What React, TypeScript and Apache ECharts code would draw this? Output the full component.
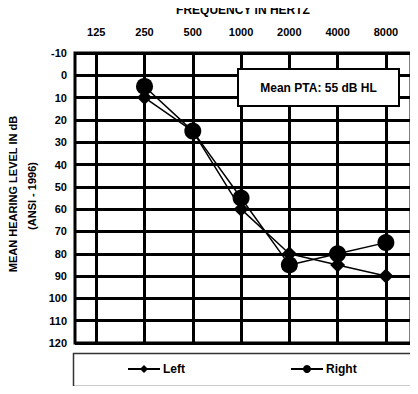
import React, { useEffect, useRef } from "react";
import * as echarts from "echarts";

const frequencies = ["125", "250", "500", "1000", "2000", "4000", "8000"];
const leftEar: (number | null)[] = [null, 10, 25, 60, 80, 85, 90];
const rightEar: (number | null)[] = [null, 5, 25, 55, 85, 80, 75];
const yTicks = { min: -10, max: 120, interval: 10 };
const yNameLines = ["MEAN HEARING LEVEL IN dB", "(ANSI - 1996)"];
const ptaLabel = "Mean PTA: 55 dB HL";

const FONT = "Liberation Sans, Arial, sans-serif";

export default function App() {
  const ref = useRef<HTMLDivElement>(null);
  useEffect(() => {
    if (!ref.current) return;
    const chart = echarts.init(ref.current, null, { renderer: "svg" });
    const toPairs = (arr: (number | null)[]) =>
      arr.map((v, i) => (v == null ? null : [i, v])).filter((p) => p !== null);
    chart.setOption({
      animation: false,
      backgroundColor: "#fff",
      textStyle: { fontFamily: FONT },
      title: {
        text: "FREQUENCY IN HERTZ",
        left: 243,
        top: 4,
        padding: 0,
        textAlign: "center",
        textVerticalAlign: "top",
        textStyle: { fontSize: 12, fontWeight: "bold", color: "#000", fontFamily: FONT },
      },
      grid: {
        left: 75,
        right: 7,
        top: 53,
        bottom: 51,
        outerBoundsMode: "none",
        containLabel: false,
        show: true,
        borderColor: "#000",
        borderWidth: 3,
        backgroundColor: "#fff",
      },
      xAxis: {
        type: "value",
        position: "top",
        min: -0.44,
        max: 6.52,
        axisLine: { show: false },
        axisTick: { show: false },
        splitLine: { show: false },
        axisLabel: {
          customValues: [0, 1, 2, 3, 4, 5, 6],
          formatter: (v: number) => frequencies[Math.round(v)] ?? "",
          color: "#000",
          fontWeight: "bold",
          fontSize: 11,
          fontFamily: FONT,
          margin: 16,
        },
      },
      yAxis: {
        type: "value",
        inverse: true,
        min: yTicks.min,
        max: yTicks.max,
        interval: yTicks.interval,
        axisLine: { show: false },
        axisTick: { show: false },
        splitLine: { show: true, lineStyle: { color: "#000", width: 3 } },
        axisLabel: {
          color: "#000",
          fontWeight: "bold",
          fontSize: 11,
          fontFamily: FONT,
          margin: 8,
        },
      },
      legend: {
        left: 122,
        top: 358,
        itemWidth: 32,
        itemHeight: 10,
        itemGap: 105,
        data: ["Left", "Right"],
        textStyle: { color: "#000", fontWeight: "bold", fontSize: 12, fontFamily: FONT, padding: [0, 0, 0, -2] },
      },
      graphic: [
        {
          type: "rect",
          silent: true,
          z: 100,
          shape: { x: 73.5, y: 353.5, width: 338, height: 33 },
          style: { fill: "none", stroke: "#333", lineWidth: 1.5 },
        },
        {
          type: "text",
          silent: true,
          z: 100,
          x: 13,
          y: 194,
          rotation: Math.PI / 2,
          style: {
            text: yNameLines[0],
            fill: "#000",
            font: "bold 11px " + FONT,
            align: "center",
            verticalAlign: "middle",
          },
        },
        {
          type: "text",
          silent: true,
          z: 100,
          x: 32,
          y: 196,
          rotation: Math.PI / 2,
          style: {
            text: yNameLines[1],
            fill: "#000",
            font: "bold 11px " + FONT,
            align: "center",
            verticalAlign: "middle",
          },
        },
        {
          type: "rect",
          silent: true,
          z: 100,
          shape: { x: 238, y: 69, width: 161, height: 37 },
          style: { fill: "#fff", stroke: "#000", lineWidth: 2 },
        },
        {
          type: "text",
          silent: true,
          z: 101,
          x: 318.5,
          y: 87.5,
          style: {
            text: ptaLabel,
            fill: "#000",
            font: "bold 12px " + FONT,
            align: "center",
            verticalAlign: "middle",
          },
        },
      ],
      series: [
        {
          name: "grid-lines",
          type: "line",
          data: [],
          silent: true,
          markLine: {
            silent: true,
            symbol: "none",
            label: { show: false },
            lineStyle: { color: "#000", width: 3, type: "solid" },
            data: [0, 1, 2, 3, 4, 5, 6].map((x) => ({ xAxis: x })),
          },
        },
        {
          name: "Left",
          type: "line",
          data: toPairs(leftEar),
          symbol: "diamond",
          symbolSize: 15,
          itemStyle: { color: "#000" },
          lineStyle: { color: "#000", width: 1.5 },
          z: 5,
        },
        {
          name: "Right",
          type: "line",
          data: toPairs(rightEar),
          symbol: "circle",
          symbolSize: 17,
          itemStyle: { color: "#000" },
          lineStyle: { color: "#000", width: 1.5 },
          z: 6,
        },
      ],
    });
    return () => chart.dispose();
  }, []);
  return <div ref={ref} style={{ width: 418, height: 394, margin: -8 }} />;
}
